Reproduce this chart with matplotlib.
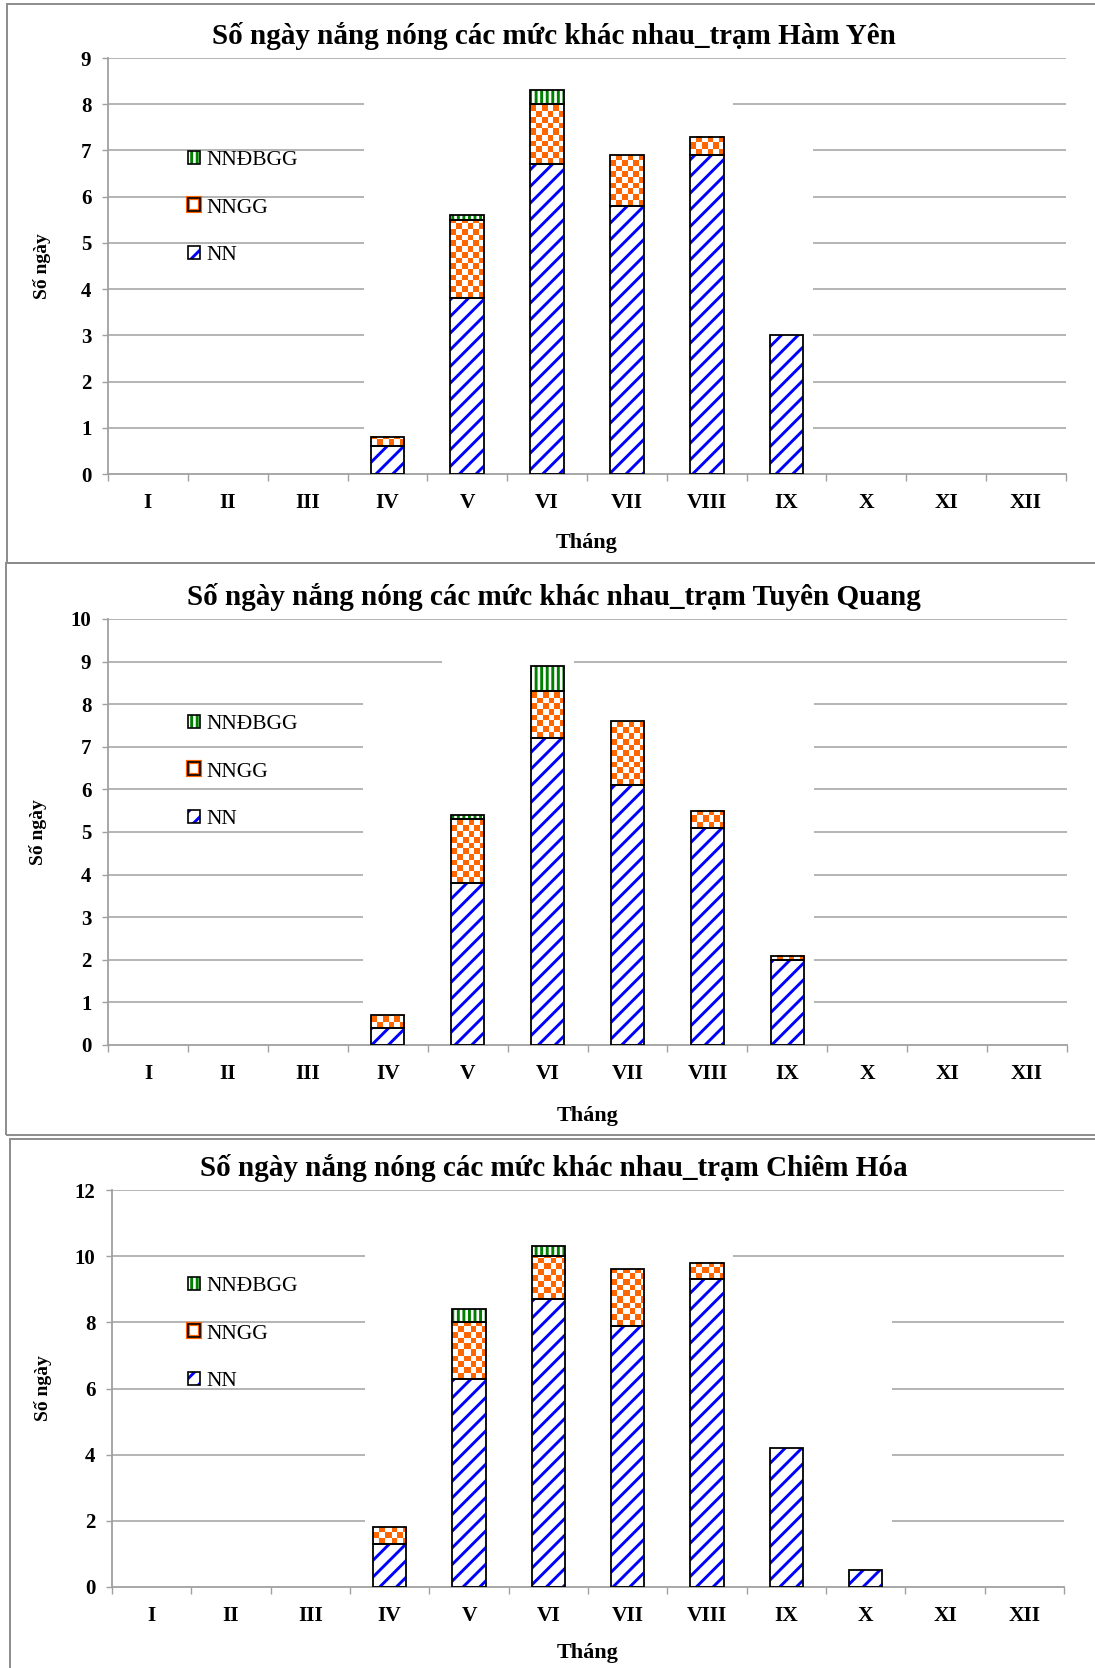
import numpy as np
import matplotlib.pyplot as plt
from matplotlib.colors import ListedColormap
from matplotlib.patches import Patch, Rectangle

plt.rcParams['font.family'] = ['Liberation Serif', 'DejaVu Serif']
plt.rcParams['hatch.linewidth'] = 2.1

months = ['I', 'II', 'III', 'IV', 'V', 'VI', 'VII', 'VIII', 'IX', 'X', 'XI', 'XII']
series_names = ['NN', 'NNGG', 'NNĐBGG']

# Hàm Yên
ham_yen_nn = [0, 0, 0, 0.6, 3.8, 6.7, 5.8, 6.9, 3.0, 0, 0, 0]
ham_yen_nngg = [0, 0, 0, 0.2, 1.7, 1.3, 1.1, 0.4, 0, 0, 0, 0]
ham_yen_nndbgg = [0, 0, 0, 0, 0.1, 0.3, 0, 0, 0, 0, 0, 0]

# Tuyên Quang
tuyen_quang_nn = [0, 0, 0, 0.4, 3.8, 7.2, 6.1, 5.1, 2.0, 0, 0, 0]
tuyen_quang_nngg = [0, 0, 0, 0.3, 1.5, 1.1, 1.5, 0.4, 0.1, 0, 0, 0]
tuyen_quang_nndbgg = [0, 0, 0, 0, 0.1, 0.6, 0, 0, 0, 0, 0, 0]

# Chiêm Hóa
chiem_hoa_nn = [0, 0, 0, 1.3, 6.3, 8.7, 7.9, 9.3, 4.2, 0.5, 0, 0]
chiem_hoa_nngg = [0, 0, 0, 0.5, 1.7, 1.3, 1.7, 0.5, 0, 0, 0, 0]
chiem_hoa_nndbgg = [0, 0, 0, 0, 0.4, 0.3, 0, 0, 0, 0, 0, 0]

stations = ['Hàm Yên', 'Tuyên Quang', 'Chiêm Hóa']
y_max = [9, 10, 12]
y_step = [1, 1, 2]

W, H, DPI = 1095, 1668, 100
BLUE, ORANGE, GREEN = '#0000FF', '#FF6600', '#008000'
GRID = '#A0A0A0'
BAR_W = 0.42
CELL = 5.7  # checker square size in pixels

# layout in pixels: axes box (left, top, right, bottom), frame box, title y,
# xlabel y, ylabel x, legend middle row y, gridline gaps (axes fraction)
panels = [
    dict(ax=(108, 58, 1066, 474), frame=(7, 4, 1100, 563), title=36,
         xlab=543, ylab=42, leg=208,
         gaps={8: (0.267, 0.652), **{v: (0.267, 0.736) for v in range(1, 8)}}),
    dict(ax=(108, 619, 1067, 1045), frame=(6, 563, 1100, 1135), title=597,
         xlab=1116, ylab=38, leg=772,
         gaps={9: (0.348, 0.486), **{v: (0.266, 0.736) for v in range(1, 9)}}),
    dict(ax=(112, 1190, 1064, 1587), frame=(10, 1139, 1100, 1680), title=1168,
         xlab=1653, ylab=43, leg=1334,
         gaps={10: (0.266, 0.652), **{v: (0.266, 0.819) for v in range(2, 9, 2)}}),
]
data = [
    (ham_yen_nn, ham_yen_nngg, ham_yen_nndbgg),
    (tuyen_quang_nn, tuyen_quang_nngg, tuyen_quang_nndbgg),
    (chiem_hoa_nn, chiem_hoa_nngg, chiem_hoa_nndbgg),
]

fig = plt.figure(figsize=(W / DPI, H / DPI), dpi=DPI)
checker_cmap = ListedColormap(['white', ORANGE])


def fig_x(px):
    return px / W


def fig_y(px):
    return 1 - px / H


def draw_checker(ax, x, bottom, height, px_x, px_y):
    w_px = max(int(round(BAR_W * px_x)), 1)
    h_px = max(int(round(height * px_y)), 1)
    rows = (np.arange(h_px) // CELL).astype(int)
    cols = (np.arange(w_px) // CELL).astype(int)
    grid = (rows[:, None] + cols[None, :]) % 2
    ax.imshow(grid, extent=(x - BAR_W / 2, x + BAR_W / 2, bottom, bottom + height),
              origin='lower', cmap=checker_cmap, vmin=0, vmax=1,
              interpolation='nearest', aspect='auto', zorder=2)


for p, (nn, nngg, nndbgg), name, ymax, step in zip(panels, data, stations, y_max, y_step):
    l, t, r, b = p['ax']
    ax = fig.add_axes([fig_x(l), fig_y(b), (r - l) / W, (b - t) / H])
    px_x = (r - l) / 12
    px_y = (b - t) / ymax

    x = np.arange(len(months))
    nn = np.array(nn)
    nngg = np.array(nngg)
    nndbgg = np.array(nndbgg)

    # frame around each chart
    fx0, fy0, fx1, fy1 = p['frame']
    fig.add_artist(Rectangle((fig_x(fx0), fig_y(fy1)), (fx1 - fx0) / W, (fy1 - fy0) / H,
                             transform=fig.transFigure, fill=False,
                             edgecolor='#8C8C8C', linewidth=1.4))

    # gridlines with the blank stretches
    ytrans = ax.get_yaxis_transform()
    for v in range(step, ymax + 1, step):
        gap = p['gaps'].get(v)
        if gap is None:
            ax.hlines(v, 0, 1, transform=ytrans, color=GRID, lw=1.1, zorder=0)
        else:
            ax.hlines(v, 0, gap[0], transform=ytrans, color=GRID, lw=1.1, zorder=0)
            ax.hlines(v, gap[1], 1, transform=ytrans, color=GRID, lw=1.1, zorder=0)

    for i in x:
        if nn[i] > 0:
            ax.bar(i, nn[i], width=BAR_W, color='white', edgecolor=BLUE,
                   hatch='//', linewidth=0, zorder=2)
        if nngg[i] > 0:
            draw_checker(ax, i, nn[i], nngg[i], px_x, px_y)
        if nndbgg[i] > 0:
            ax.bar(i, nndbgg[i], bottom=nn[i] + nngg[i], width=BAR_W, color='white',
                   edgecolor=GREEN, hatch='|||', linewidth=0, zorder=2)
        bottom = 0
        for seg in (nn[i], nngg[i], nndbgg[i]):
            if seg > 0:
                ax.bar(i, seg, bottom=bottom, width=BAR_W, fill=False,
                       edgecolor='black', linewidth=1.3, zorder=3)
            bottom += seg

    ax.set_xlim(-0.5, 11.5)
    ax.set_ylim(0, ymax)
    for side in ('top', 'right'):
        ax.spines[side].set_visible(False)
    for side in ('left', 'bottom'):
        ax.spines[side].set_color(GRID)
        ax.spines[side].set_linewidth(1.3)

    ax.set_yticks(np.arange(0, ymax + 1, step))
    ax.tick_params(axis='y', length=4, width=1, color=GRID, pad=8, labelsize=15)
    ax.set_xticks(np.arange(-0.5, 12, 1))
    ax.set_xticklabels([])
    ax.set_xticks(x, minor=True)
    ax.set_xticklabels(months, minor=True)
    ax.tick_params(axis='x', which='major', length=5, width=1, color=GRID)
    ax.tick_params(axis='x', which='minor', length=0, pad=14, labelsize=15.5)
    for lbl in ax.get_yticklabels() + ax.get_xticklabels(minor=True):
        lbl.set_fontweight('bold')

    fig.text(fig_x(554), fig_y(p['title']), f'Số ngày nắng nóng các mức khác nhau_trạm {name}',
             ha='center', va='center', fontsize=21, fontweight='bold')
    fig.text(fig_x((l + r) / 2), fig_y(p['xlab']), 'Tháng', ha='center', va='center',
             fontsize=16, fontweight='bold')
    fig.text(fig_x(p['ylab']), fig_y((t + b) / 2), 'Số ngày', ha='center', va='center',
             rotation=90, fontsize=14, fontweight='bold')

    handles = [
        (Patch(facecolor='white', edgecolor=GREEN, hatch='|||', linewidth=0),
         Patch(fill=False, edgecolor='black', linewidth=1.2)),
        (Patch(facecolor='white', edgecolor=ORANGE, linewidth=3),
         Patch(fill=False, edgecolor='black', linewidth=1.2)),
        (Patch(facecolor='white', edgecolor=BLUE, hatch='//', linewidth=0),
         Patch(fill=False, edgecolor='black', linewidth=1.2)),
    ]
    ax.legend(handles, series_names[::-1], loc='center left',
              bbox_to_anchor=(fig_x(188), fig_y(p['leg'])), bbox_transform=fig.transFigure,
              frameon=False, fontsize=15.5, handlelength=0.55, handleheight=0.55,
              handletextpad=0.3, labelspacing=1.3, borderpad=0, borderaxespad=0)

fig.savefig('out.png', dpi=DPI)
